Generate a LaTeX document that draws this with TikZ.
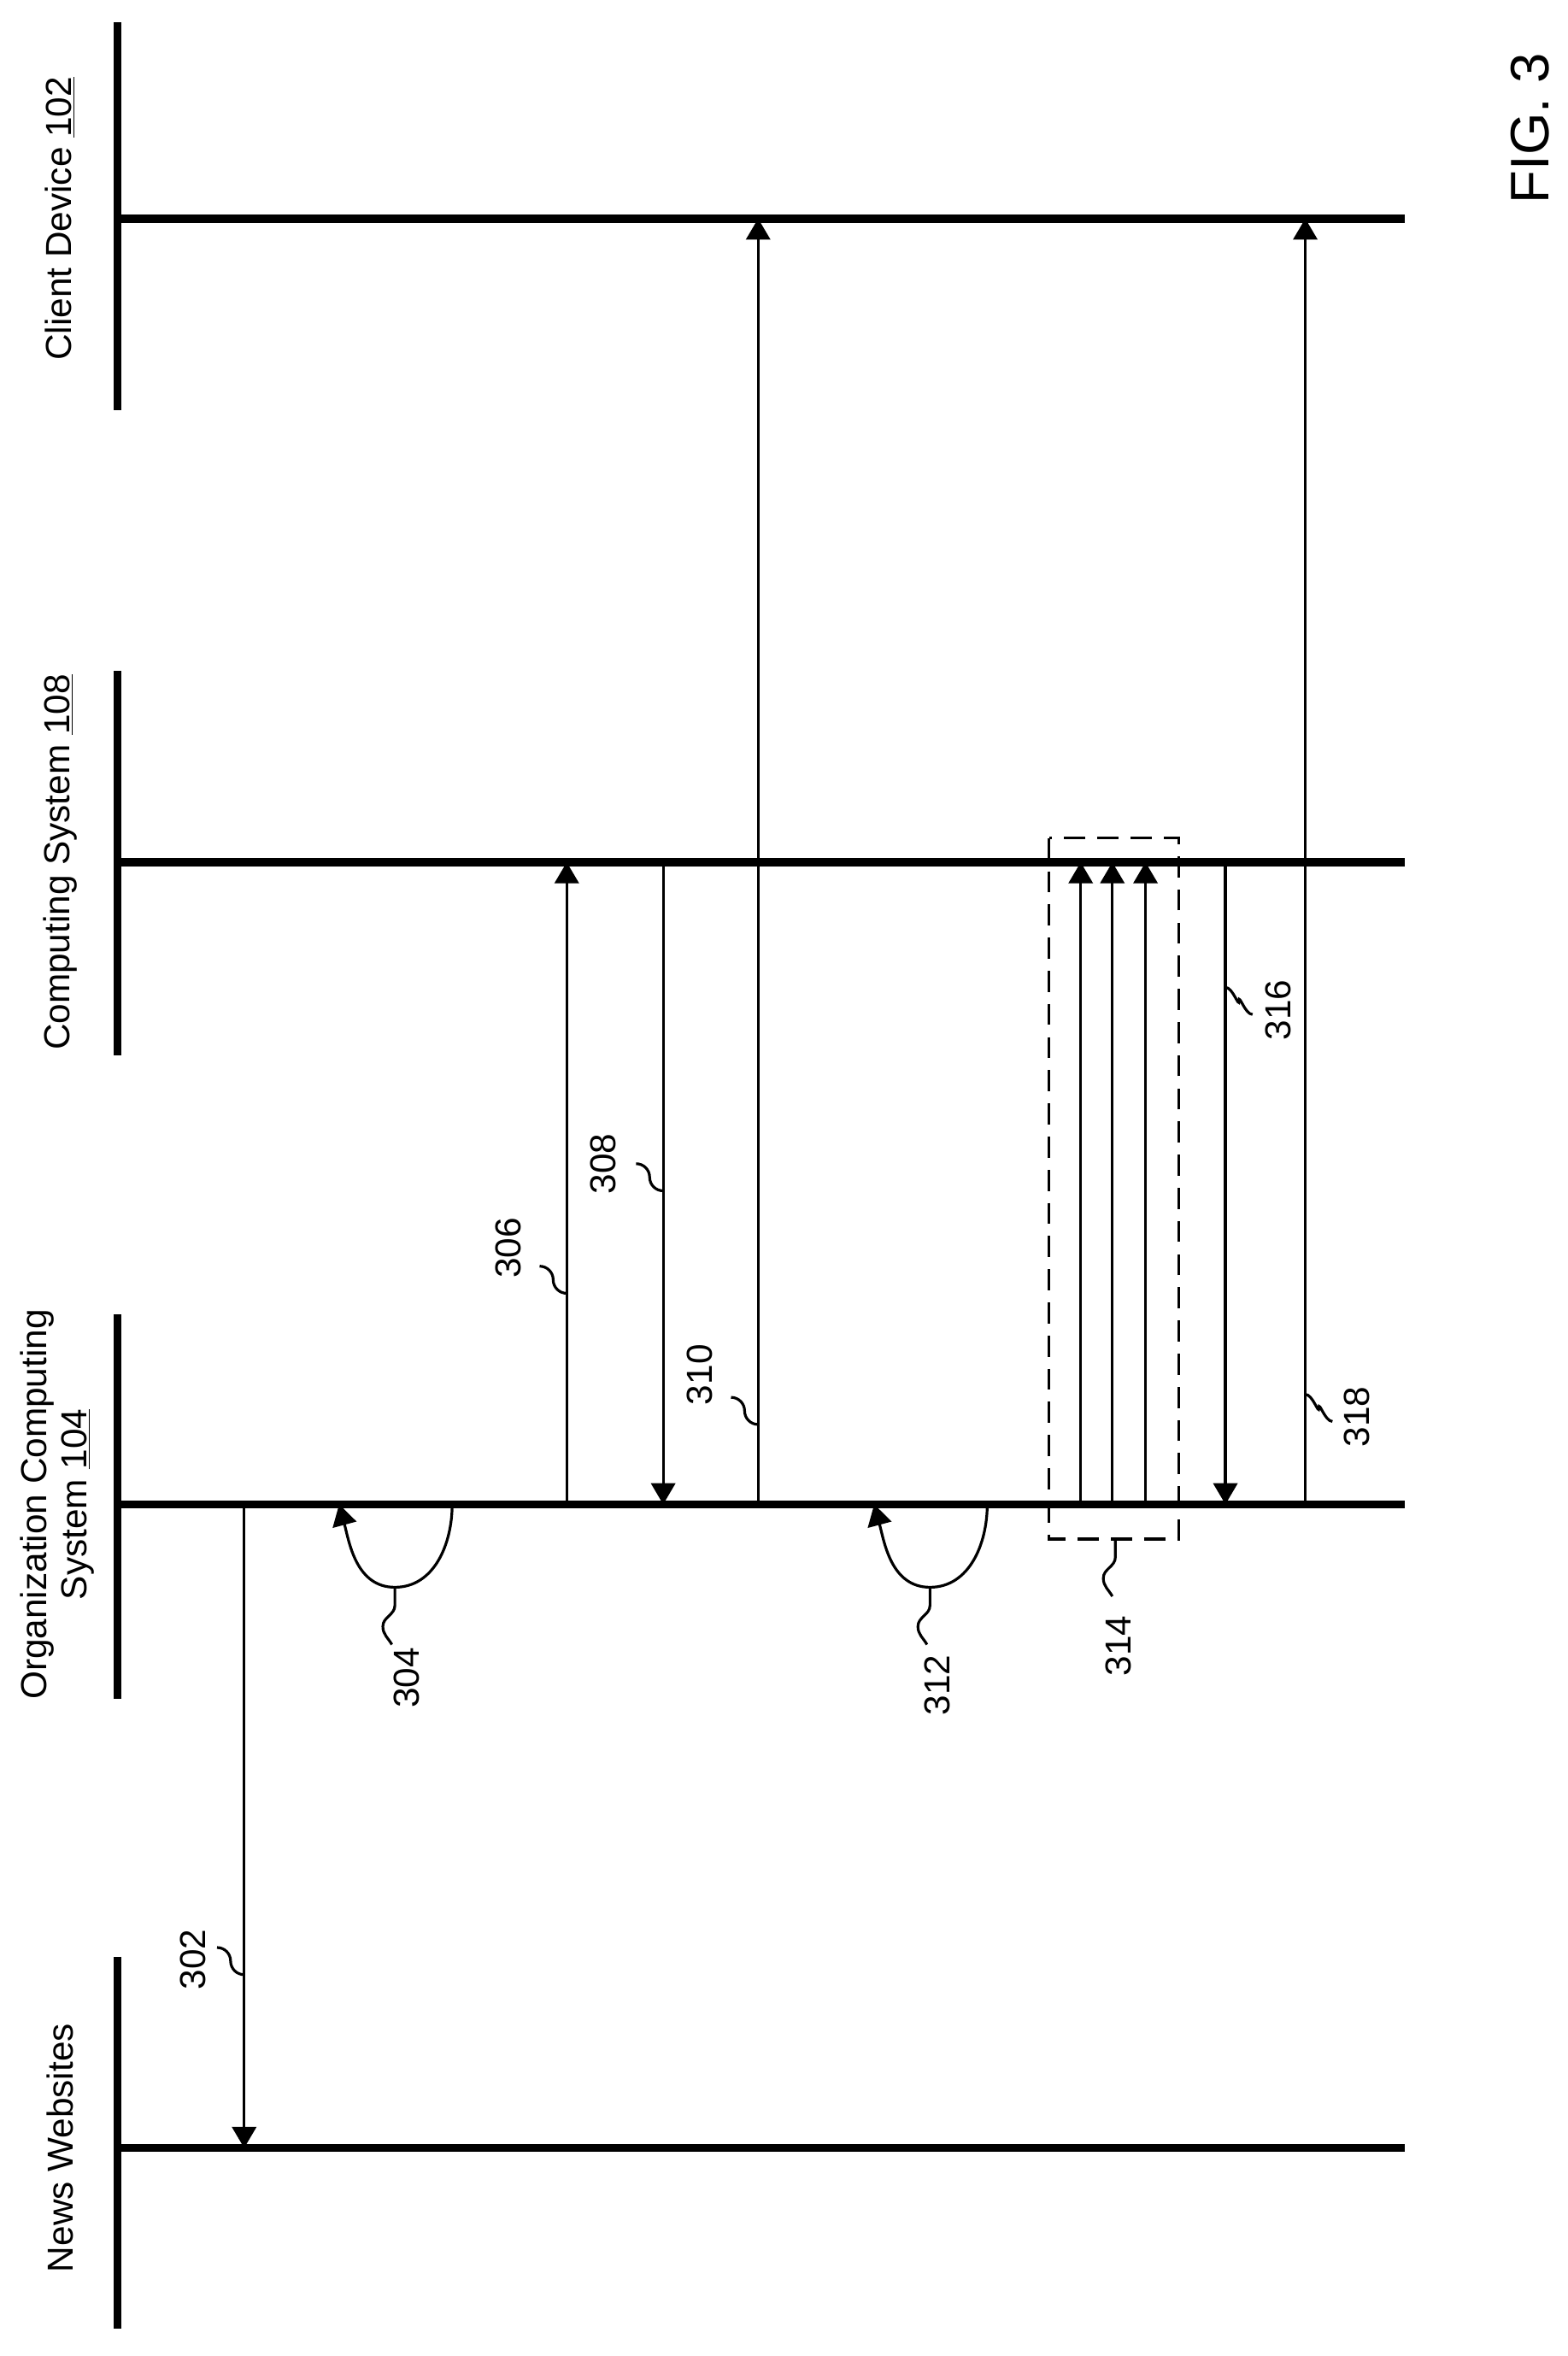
\documentclass[tikz,border=0pt]{standalone}
\usepackage{fontspec}
\setmainfont{Liberation Sans}
\usetikzlibrary{arrows.meta}
\begin{document}
\begin{tikzpicture}[x=1pt,y=-1pt,
  life/.style={line width=5.5pt},
  msg/.style={line width=1.8pt,-{Triangle[length=14pt,width=16pt]}},
  lead/.style={line width=1.8pt},
  lbl/.style={rotate=90,font=\fontsize{24}{26}\selectfont,inner sep=1pt},
  hdr/.style={rotate=90,font=\fontsize{24}{27}\selectfont,align=center,inner sep=1pt}]
\useasboundingbox (0,0) rectangle (1040,1563);
% lifelines
\foreach \n/\y/\a/\b in {cd/145/15/272, cs/572/445/700, oc/998/872/1127, nw/1425/1298/1545}{
  \draw[life] (78,\a) -- (78,\b);
  \draw[life] (78,\y) -- (932,\y);
}
\node[hdr] (hcd) at (40,145) {Client Device \underline{102}};
\node[hdr] (hcs) at (40,572) {Computing System \underline{108}};
\node[hdr] (hoc) at (38,998) {Organization Computing\\System \underline{104}};
\node[hdr] (hnw) at (40,1425) {News Websites};
\node[rotate=90,font=\fontsize{36}{40}\selectfont] (fig) at (1015,85) {FIG. 3};
% coordinates
\foreach \x in {162,376,440,503,717,738,760,813,866}{
  \coordinate (c\x) at (\x,145);
  \coordinate (s\x) at (\x,572);
  \coordinate (o\x) at (\x,998);
  \coordinate (n\x) at (\x,1425);
}
\draw[msg] (o162) -- (n162);
\draw[msg] (o376) -- (s376);
\draw[msg] (s440) -- (o440);
\draw[msg] (o503) -- (c503);
\draw[msg] (o717) -- (s717);
\draw[msg] (o738) -- (s738);
\draw[msg] (o760) -- (s760);
\draw[msg] (s813) -- (o813);
\draw[msg] (o866) -- (c866);
% loops
\coordinate (l304a) at (300,998); \coordinate (l304b) at (262,1053); \coordinate (l304c) at (225,998);
\draw[msg] (l304a) to[out=-90,in=0] (l304b) to[out=180,in=-75] (l304c);
\coordinate (l312a) at (655,998); \coordinate (l312b) at (617,1053); \coordinate (l312c) at (580,998);
\draw[msg] (l312a) to[out=-90,in=0] (l312b) to[out=180,in=-75] (l312c);
% dashed box
\draw[line width=1.8pt,dash pattern=on 14pt off 8pt] (696,556) rectangle (782,1021);
% labels with leaders
\newcommand{\leftlead}[3]{% start, label pos, text
  \draw[lead] #1 to[out=180,in=-90] ++(-9,-9) to[out=90,in=0] ++(-9,-9);
  \node[lbl] at #2 {#3};}
\newcommand{\rightlead}[3]{%
  \draw[lead] #1 to[out=0,in=-90] ++(9,9) to[out=90,in=180] ++(9,9);
  \node[lbl] at #2 {#3};}
\newcommand{\downlead}[3]{%
  \draw[lead] #1 -- ++(0,8) to[out=90,in=90] ++(-4,12) to[out=-90,in=180] ++(5,12);
  \node[lbl] at #2 {#3};}
\leftlead{(162,1310)}{(128,1300)}{302}
\leftlead{(376,858)}{(337,828)}{306}
\leftlead{(440,790)}{(400,772)}{308}
\leftlead{(503,945)}{(464,912)}{310}
\rightlead{(813,655)}{(848,670)}{316}
\rightlead{(866,925)}{(900,940)}{318}
\draw[lead] (l304b) -- ++(0,12) to[out=-90,in=90] ++(-8,14) to[out=-90,in=120] ++(6,12);
\node[lbl] at (270,1113) {304};
\draw[lead] (l312b) -- ++(0,12) to[out=-90,in=90] ++(-8,14) to[out=-90,in=120] ++(6,12);
\node[lbl] at (622,1118) {312};
\draw[lead] (740,1021) -- ++(0,12) to[out=-90,in=90] ++(-8,14) to[out=-90,in=120] ++(6,12);
\node[lbl] at (742,1092) {314};
\end{tikzpicture}
\end{document}
